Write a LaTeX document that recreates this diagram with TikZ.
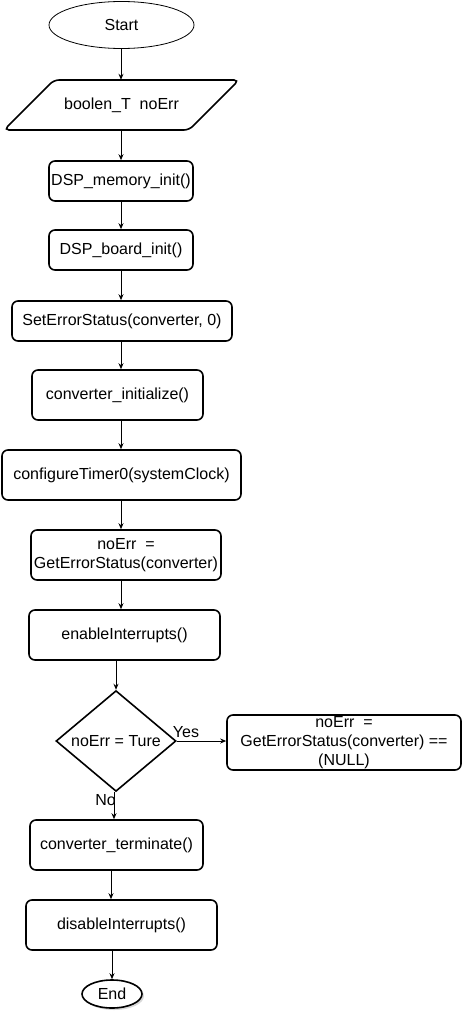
\documentclass[tikz,border=0pt]{standalone}
\usepackage{fontspec}
\setmainfont{Liberation Sans}
\usetikzlibrary{shapes.geometric,arrows.meta,shadows}
\begin{document}
\begin{tikzpicture}[x=1pt,y=-1pt,
  every node/.style={font=\fontsize{16}{19}\selectfont, text=black, inner sep=0pt, align=center},
  procbox/.style={draw=black, line width=1.6pt, rounded corners=6pt, rectangle, fill=white},
  termnode/.style={draw=black, ellipse, fill=white},
  dec/.style={draw=black, line width=1.6pt, diamond, fill=white},
  flow/.style={draw=black, line width=1pt, -{Stealth[length=6pt,width=5pt]}},
  lbl/.style={font=\fontsize{16}{19}\selectfont}
]
\useasboundingbox (0,0) rectangle (462,1014);
\fill[white] (0,0) rectangle (462,1014);

\node[termnode, line width=0.8pt, minimum width=145, minimum height=47] (start) at (121.5,25) {Start};

\node[minimum width=185, minimum height=50] (io) at (121.5,105) {boolen\_T\ \ noErr};
\draw[line width=1.6pt, rounded corners=5pt] (54,80) -- (239,80) -- (189,130) -- (4,130) -- cycle;

\node[procbox, minimum width=144, minimum height=40] (mem) at (121,181) {DSP\_memory\_init()};
\node[procbox, minimum width=144, minimum height=40] (board) at (121,250) {DSP\_board\_init()};
\node[procbox, minimum width=220, minimum height=40] (set) at (122,321) {SetErrorStatus(converter, 0)};
\node[procbox, minimum width=171, minimum height=50] (init) at (117.5,395) {converter\_initialize()};
\node[procbox, minimum width=239, minimum height=50] (timer) at (121.5,475) {configureTimer0(systemClock)};
\node[procbox, minimum width=190, minimum height=50] (noerr) at (126,555) {noErr\ \ =\\GetErrorStatus(converter)};
\node[procbox, minimum width=191, minimum height=50] (enable) at (124.5,635) {enableInterrupts()};
\node[dec, minimum width=120, minimum height=100] (dia) at (116,741) {noErr = Ture};
\node[procbox, minimum width=234, minimum height=55] (yes) at (344,742.5) {noErr\ \ =\\GetErrorStatus(converter) ==\\(NULL)};
\node[procbox, minimum width=173, minimum height=50] (term) at (116.5,845) {converter\_terminate()};
\node[procbox, minimum width=191, minimum height=50] (dis) at (121.5,925) {disableInterrupts()};
\node[termnode, line width=1.6pt, minimum width=60, minimum height=28,
      drop shadow={opacity=0.3, shadow xshift=2pt, shadow yshift=-2pt}] (end) at (112,994) {End};

\coordinate (col) at (121,0);
\coordinate (col2) at (111,0);

\draw[flow] (start.south -| col) -- (io.north -| col);
\draw[flow] (io.south -| col) -- (mem.north -| col);
\draw[flow] (mem.south -| col) -- (board.north -| col);
\draw[flow] (board.south -| col) -- (set.north -| col);
\draw[flow] (set.south -| col) -- (init.north -| col);
\draw[flow] (init.south -| col) -- (timer.north -| col);
\draw[flow] (timer.south -| col) -- (noerr.north -| col);
\draw[flow] (noerr.south -| col) -- (enable.north -| col);
\draw[flow] (enable.south -| dia.north) -- (dia.north);
\draw[flow] (dia.east) -- (dia.east -| yes.west);
\draw[flow] ([xshift=-2pt]dia.south) -- ([xshift=-2pt]dia.south |- term.north);
\draw[flow] (term.south -| col2) -- (dis.north -| col2);
\draw[flow] (dis.south -| end.north) -- (end.north);

\node[lbl] (ylab) at (186,732) {Yes};
\node[lbl, anchor=east] (nlab) at (116,800) {No};
\end{tikzpicture}
\end{document}
